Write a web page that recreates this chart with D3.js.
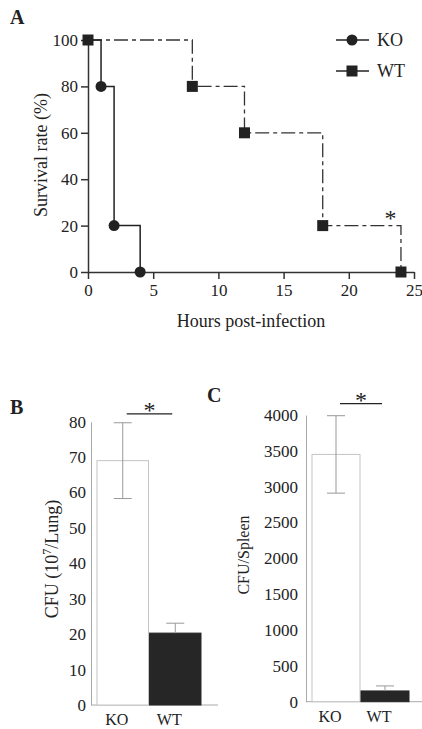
<!DOCTYPE html>
<html>
<head>
<meta charset="utf-8">
<script src="https://cdn.jsdelivr.net/npm/d3@7"></script>
<style>
  body { margin: 0; background: #fff; }
  text { font-family: "Liberation Serif", "DejaVu Serif", serif; fill: #222; }
</style>
</head>
<body>
<script>
// Panel A: survival curves
const hoursKO = [0, 1, 2, 4];
const survivalKO = [100, 80, 20, 0];
const hoursWT = [0, 8, 12, 18, 24];
const survivalWT = [100, 80, 60, 20, 0];
const hourTicks = [0, 5, 10, 15, 20, 25];
const survivalTicks = [0, 20, 40, 60, 80, 100];

// Panels B and C: bacterial load
const groups = ['KO', 'WT'];
const lungCFU = [69, 20.3];
const lungErr = [10.7, 2.8];
const spleenCFU = [3450, 150];
const spleenErr = [540, 70];
const lungTicks = [0, 10, 20, 30, 40, 50, 60, 70, 80];
const spleenTicks = [0, 500, 1000, 1500, 2000, 2500, 3000, 3500, 4000];

const svg = d3.select("body")
  .append("svg")
  .attr("width", 422)
  .attr("height", 729);

// ---------- A ----------
const xA = d3.scaleLinear().domain([0, 25]).range([88, 414]);
const yA = d3.scaleLinear().domain([0, 100]).range([272, 40]);

svg.append("text").attr("x", 10).attr("y", 24)
  .style("font-size", "20px").style("font-weight", "bold").text("A");

const axA = svg.append("g");
axA.append("g")
  .attr("transform", "translate(0,272)")
  .call(d3.axisBottom(xA).tickValues(hourTicks).tickSize(7).tickSizeOuter(0).tickPadding(5));
axA.append("g")
  .attr("transform", "translate(88,0)")
  .call(d3.axisLeft(yA).tickValues(survivalTicks).tickSize(7).tickSizeOuter(0).tickPadding(3));
axA.selectAll("path, line").attr("stroke", "#333").attr("stroke-width", 1.5);
axA.selectAll("text")
  .style("font-family", "Liberation Serif").style("font-size", "17px").attr("fill", "#222");

svg.append("text").attr("x", 251).attr("y", 327)
  .attr("text-anchor", "middle").style("font-size", "18px").text("Hours post-infection");
svg.append("text")
  .attr("transform", "translate(47,155) rotate(-90)")
  .attr("text-anchor", "middle").style("font-size", "18px").text("Survival rate (%)");

const step = d3.line().curve(d3.curveStepAfter);

svg.append("path")
  .attr("d", step(hoursWT.map((h, i) => [xA(h), yA(survivalWT[i])])))
  .attr("fill", "none").attr("stroke", "#333").attr("stroke-width", 1.3)
  .attr("stroke-dasharray", "14,4,4,4");

svg.append("path")
  .attr("d", step(hoursKO.map((h, i) => [xA(h), yA(survivalKO[i])])))
  .attr("fill", "none").attr("stroke", "#222").attr("stroke-width", 1.5);

svg.selectAll(".wt")
  .data(hoursWT)
  .enter()
  .append("rect")
  .attr("x", (d) => xA(d) - 5.5)
  .attr("y", (d, i) => yA(survivalWT[i]) - 5.5)
  .attr("width", 11).attr("height", 11)
  .attr("fill", "#222");

svg.selectAll(".ko")
  .data(hoursKO.slice(1))
  .enter()
  .append("circle")
  .attr("cx", (d) => xA(d))
  .attr("cy", (d, i) => yA(survivalKO[i + 1]))
  .attr("r", 5.5)
  .attr("fill", "#222");

svg.append("text").attr("x", xA(23.2)).attr("y", yA(20))
  .attr("text-anchor", "middle").style("font-size", "24px").text("*");

// legend
const legend = svg.append("g");
[["KO", 40], ["WT", 71]].forEach(([name, ly]) => {
  legend.append("line").attr("x1", 336).attr("x2", 369).attr("y1", ly).attr("y2", ly)
    .attr("stroke", "#222").attr("stroke-width", 1.3);
  if (name === "KO") {
    legend.append("circle").attr("cx", 352).attr("cy", ly).attr("r", 5.5).attr("fill", "#222");
  } else {
    legend.append("rect").attr("x", 346.5).attr("y", ly - 5.5).attr("width", 11).attr("height", 11).attr("fill", "#222");
  }
  legend.append("text").attr("x", 377).attr("y", ly + 6).style("font-size", "18px").text(name);
});

// ---------- bar panels ----------
function barPanel(opt) {
  const x = d3.scaleBand().domain(groups).range(opt.xr).paddingInner(0.02);
  const y = d3.scaleLinear().domain(opt.domain).range(opt.yr);
  const g = svg.append("g");

  g.append("text").attr("x", opt.letter[1]).attr("y", opt.letter[2])
    .style("font-size", "20px").style("font-weight", "bold").text(opt.letter[0]);

  const ay = g.append("g").attr("transform", `translate(${opt.axisX},0)`)
    .call(d3.axisLeft(y).tickValues(opt.ticks).tickFormat(d3.format("d")).tickSize(0).tickPadding(opt.pad));
  ay.selectAll("text").style("font-family", "Liberation Serif").style("font-size", "17px").attr("fill", "#222");
  ay.select(".domain").attr("stroke", "#aaa");

  g.append("line").attr("x1", opt.axisX).attr("x2", opt.xEnd)
    .attr("y1", opt.yr[0]).attr("y2", opt.yr[0]).attr("stroke", "#aaa");

  g.selectAll(".bar")
    .data(opt.values)
    .enter()
    .append("rect")
    .attr("x", (d, i) => x(groups[i]))
    .attr("y", (d) => y(d))
    .attr("width", x.bandwidth())
    .attr("height", (d) => y(0) - y(d))
    .attr("fill", (d, i) => i === 0 ? "#fff" : "#262626")
    .attr("stroke", (d, i) => i === 0 ? "#c4c4c4" : "#262626");

  // error bars
  opt.values.forEach((v, i) => {
    const cx = x(groups[i]) + x.bandwidth() / 2;
    const lo = i === 0 ? v - opt.errs[i] : v;
    g.append("line").attr("x1", cx).attr("x2", cx)
      .attr("y1", y(lo)).attr("y2", y(v + opt.errs[i])).attr("stroke", "#999");
    [v + opt.errs[i], i === 0 ? v - opt.errs[i] : null].forEach((e) => {
      if (e === null) return;
      g.append("line").attr("x1", cx - 9).attr("x2", cx + 9)
        .attr("y1", y(e)).attr("y2", y(e)).attr("stroke", "#999");
    });
  });

  // significance
  const s1 = x("KO") + x.bandwidth() / 2 + 4;
  const s2 = x("WT") + x.bandwidth() / 2 - 3;
  g.append("line").attr("x1", s1).attr("x2", s2)
    .attr("y1", y(opt.sig)).attr("y2", y(opt.sig)).attr("stroke", "#222").attr("stroke-width", 1.3);
  g.append("text").attr("x", (s1 + s2) / 2).attr("y", y(opt.sig) + 4)
    .attr("text-anchor", "middle").style("font-size", "24px").text("*");

  groups.forEach((n) => {
    g.append("text").attr("x", x(n) + x.bandwidth() / 2 - 6).attr("y", opt.yr[0] + 20)
      .attr("text-anchor", "middle").style("font-size", "16px").text(n);
  });

  const lab = g.append("text")
    .attr("transform", `translate(${opt.label[1]},${opt.label[2]}) rotate(-90)`)
    .attr("text-anchor", "middle").style("font-size", opt.labelSize);
  opt.label[0](lab);
  return g;
}

barPanel({
  xr: [97, 201], yr: [705, 421.7], domain: [0, 80], ticks: lungTicks,
  values: lungCFU, errs: lungErr, axisX: 91, xEnd: 218, pad: 5, sig: 82.2,
  letter: ["B", 10, 414], labelSize: "18px",
  label: [(t) => {
    t.append("tspan").text("CFU (10");
    t.append("tspan").attr("dy", -7).style("font-size", "12px").text("7");
    t.append("tspan").attr("dy", 7).text("/Lung)");
  }, 58, 559]
});

barPanel({
  xr: [312, 409], yr: [701.7, 415], domain: [0, 4000], ticks: spleenTicks,
  values: spleenCFU, errs: spleenErr, axisX: 306, xEnd: 422, pad: 8, sig: 4158,
  letter: ["C", 207, 402], labelSize: "16px",
  label: [(t) => t.text("CFU/Spleen"), 249, 555]
});
</script>
</body>
</html>
